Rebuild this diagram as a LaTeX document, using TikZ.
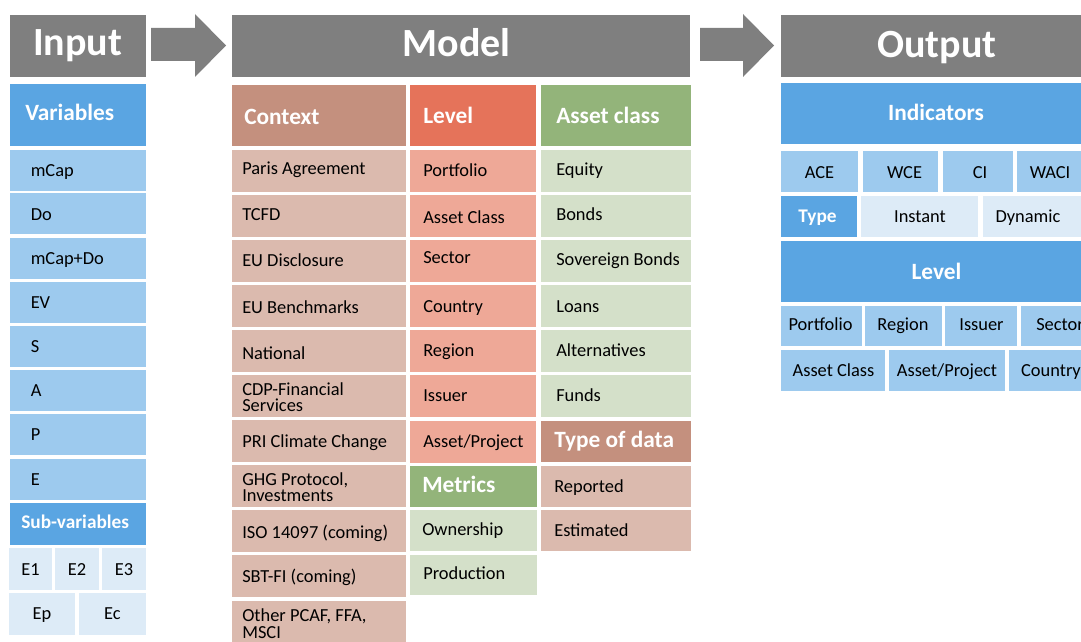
\documentclass[tikz,border=0pt]{standalone}
\usepackage{fontspec}
\setmainfont{Carlito}
\definecolor{headgray}{HTML}{7F7F7F}
\definecolor{bluedark}{HTML}{5AA5E2}
\definecolor{bluemid}{HTML}{9DCAEE}
\definecolor{bluepale}{HTML}{DDEBF7}
\definecolor{ctxdark}{HTML}{C4907E}
\definecolor{ctxlight}{HTML}{DBBAAE}
\definecolor{lvldark}{HTML}{E5735A}
\definecolor{lvllight}{HTML}{EEA897}
\definecolor{grndark}{HTML}{93B47A}
\definecolor{grnlight}{HTML}{D4E0C9}
\begin{document}
\begin{tikzpicture}[x=0.75pt,y=-0.75pt,
  body/.style={font=\fontsize{13.8}{12.4}\selectfont, text=black, inner sep=0pt},
  twoline/.style={body, align=left, anchor=west},
  hd/.style={font=\fontsize{17.5}{18}\selectfont\bfseries, text=white, inner sep=0pt},
  subhd/.style={font=\fontsize{14.5}{15}\selectfont\bfseries, text=white, inner sep=0pt},
  title/.style={font=\fontsize{30}{32}\selectfont\bfseries, text=white, inner sep=0pt}]
  % page = 1081 x 642 px, y grows downwards
  \useasboundingbox (0,0) rectangle (1081,642);
  \clip (0,0) rectangle (1081,642);

  % title bars and block arrows
  \fill[headgray] (10,15) rectangle (146,77);
  \node[title, anchor=base] (input) at (77.5,56) {Input};
  \fill[headgray] (232,15) rectangle (690,77);
  \node[title, anchor=base] (model) at (456.5,57) {Model};
  \fill[headgray] (781,15) rectangle (1095,77);
  \node[title, anchor=base] (output) at (937,58) {Output};
  \fill[headgray] (151,28) -- (195,28) -- (195,14) -- (226,45.5) -- (195,77) -- (195,61) -- (151,61) -- cycle;
  \fill[headgray] (700,28) -- (743,28) -- (743,14) -- (774,45.5) -- (743,77) -- (743,61) -- (700,61) -- cycle;

  % input: variables
  \fill[bluedark] (10,84) rectangle (146,146);
  \node[hd, anchor=base west] (vars) at (25,120.7) {Variables};
  \foreach \y/\b/\t [count=\i] in {150/176.7/mCap, 193/220.7/Do, 238/264/mCap+Do,
      282/308.3/EV, 326/352.7/S, 370/396/A, 414/440/P, 459/485/E} {
    \fill[bluemid] (10,\y) rectangle (146,{\y+41});
    \node[body, anchor=base west] (var\i) at (30.5,\b) {\t};
  }
  \fill[bluedark] (10,503) rectangle (146,545);
  \node[subhd, anchor=base west] (subvars) at (21,528.3) {Sub-variables};
  \foreach \xa/\xb/\t [count=\i] in {9/52/E1, 55/99/E2, 102/146/E3} {
    \fill[bluepale] (\xa,548) rectangle (\xb,590);
    \node[body, anchor=base] (sub\i) at ({(\xa+\xb)/2},575) {\t};
  }
  \foreach \xa/\xb/\t [count=\i] in {9/75/Ep, 79/146/Ec} {
    \fill[bluepale] (\xa,593) rectangle (\xb,635);
    \node[body, anchor=base] (subb\i) at ({(\xa+\xb)/2},619.3) {\t};
  }

  % model: context
  \fill[ctxdark] (232,85) rectangle (406,146);
  \node[hd, anchor=base west] (ctx) at (244,124) {Context};
  \foreach \y in {150,195,240,285,330,375,420,465,510,555,601}
    \fill[ctxlight] (232,\y) rectangle (406,{\y+41.5});
  \foreach \b/\t [count=\i] in {174/Paris Agreement, 220/TCFD, 266.7/EU Disclosure,
      313.3/EU Benchmarks, 359.3/National, 447.3/PRI Climate Change,
      538.3/ISO 14097 (coming), 582.7/SBT-FI (coming)}
    \node[body, anchor=base west] (ctx\i) at (242,\b) {\t};
  \node[twoline] (cdp) at (242,397) {CDP-Financial\\Services};
  \node[twoline] (ghg) at (242,487) {GHG Protocol,\\Investments};
  \node[twoline] (other) at (242,623.5) {Other PCAF, FFA,\\MSCI};

  % model: level
  \fill[lvldark] (410,85) rectangle (536,146);
  \node[hd, anchor=base west] (lvl) at (423,123.3) {Level};
  \foreach \y/\b/\t [count=\i] in {150/176/Portfolio, 195/223.3/Asset Class,
      240/263.3/Sector, 285/312.3/Country, 330/356/Region, 375/401.7/Issuer,
      421/447.3/{Asset/Project}} {
    \fill[lvllight] (410,\y) rectangle (536,{\y+41.5});
    \node[body, anchor=base west] (lvl\i) at (423,\b) {\t};
  }
  \fill[grndark] (410,466) rectangle (537,507);
  \node[hd, anchor=base west] (metrics) at (422,492.3) {Metrics};
  \fill[grnlight] (410,510) rectangle (537,551);
  \node[body, anchor=base west] (own) at (422,535) {Ownership};
  \fill[grnlight] (410,555) rectangle (537,595);
  \node[body, anchor=base west] (prod) at (423,579.3) {Production};

  % model: asset class and type of data
  \fill[grndark] (541,85) rectangle (691,146);
  \node[hd, anchor=base west] (ast) at (556,123.3) {Asset class};
  \foreach \y/\b/\t [count=\i] in {150/175/Equity, 195/220.7/Bonds,
      240/265/Sovereign Bonds, 285/312.7/Loans, 330/356/Alternatives, 375/401.7/Funds} {
    \fill[grnlight] (541,\y) rectangle (691,{\y+41.5});
    \node[body, anchor=base west] (ast\i) at (556,\b) {\t};
  }
  \fill[ctxdark] (541,421) rectangle (691,462);
  \node[hd, anchor=base west] (dtype) at (554,447.3) {Type of data};
  \fill[ctxlight] (541,466) rectangle (691,507);
  \node[body, anchor=base west] (rep) at (554,492.7) {Reported};
  \fill[ctxlight] (541,510) rectangle (691,551);
  \node[body, anchor=base west] (est) at (554,536) {Estimated};

  % output
  \fill[bluedark] (781,83) rectangle (1095,144);
  \node[hd, anchor=base] (ind) at (936,120.7) {Indicators};
  \foreach \xa/\xb/\c/\t [count=\i] in {781/858/819.5/ACE, 863/938/904.5/WCE,
      943/1013/980/CI, 1017/1095/1050/WACI} {
    \fill[bluemid] (\xa,151) rectangle (\xb,192);
    \node[body, anchor=base] (ind\i) at (\c,178.3) {\t};
  }
  \fill[bluedark] (781,196) rectangle (857,237);
  \node[subhd, anchor=base] (otype) at (817.5,222) {Type};
  \fill[bluepale] (861,196) rectangle (978,237);
  \node[body, anchor=base] (inst) at (920,222) {Instant};
  \fill[bluepale] (983,196) rectangle (1095,237);
  \node[body, anchor=base] (dyn) at (1028,222) {Dynamic};
  \fill[bluedark] (781,241) rectangle (1095,302);
  \node[hd, anchor=base] (olvl) at (936.5,279) {Level};
  \foreach \xa/\xb/\c/\t [count=\i] in {781/862/820.5/Portfolio, 865/942/903/Region,
      945/1017/981.5/Issuer, 1021/1095/1060/Sector} {
    \fill[bluemid] (\xa,306) rectangle (\xb,346);
    \node[body, anchor=base] (olvl\i) at (\c,330.7) {\t};
  }
  \foreach \xa/\xb/\c/\t [count=\i] in {781/885/833.5/Asset Class,
      889/1005/947/{Asset/Project}, 1009/1095/1051/Country} {
    \fill[bluemid] (\xa,350) rectangle (\xb,391);
    \node[body, anchor=base] (oast\i) at (\c,376.7) {\t};
  }
\end{tikzpicture}
\end{document}
